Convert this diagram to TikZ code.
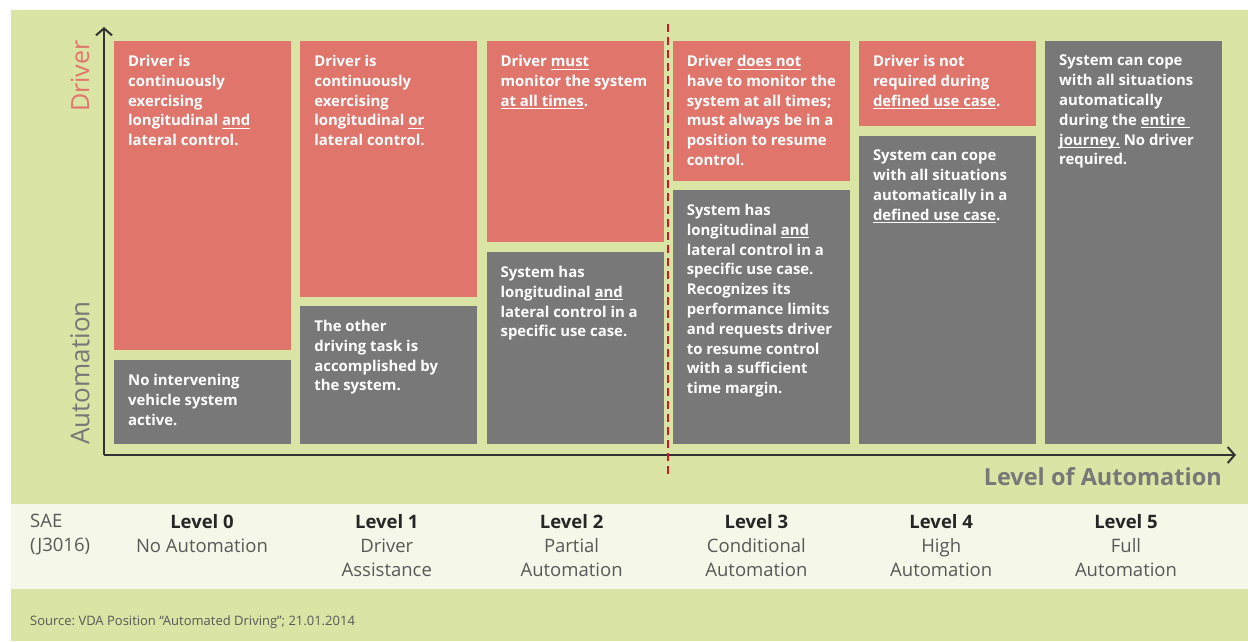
\documentclass[tikz,border=0pt]{standalone}
\usepackage{fontspec}
\setmainfont{Open Sans}
\usepackage{xcolor}
\definecolor{bggreen}{RGB}{218,228,164}
\definecolor{band}{RGB}{245,247,233}
\definecolor{drvred}{RGB}{224,117,108}
\definecolor{sysgray}{RGB}{120,120,120}
\definecolor{txtgray}{RGB}{88,88,88}
\definecolor{dashred}{RGB}{206,24,42}
\usepackage{tikz}
\usetikzlibrary{positioning, arrows.meta}
\frenchspacing
% underline a little below the baseline
\newsavebox{\undlbox}
\newcommand{\undl}[1]{\sbox{\undlbox}{#1}\rlap{\rule[-3pt]{\wd\undlbox}{0.9pt}}\usebox{\undlbox}}
\tikzstyle{box} = [
    rectangle, anchor=north west,
    minimum width=177pt,
    inner sep=0pt,
]
\tikzstyle{driver} = [
    box,
    fill=drvred,
]
\tikzstyle{system} = [
    box,
    fill=sysgray,
]
\tikzstyle{boxtext} = [
    text=white, align=left, inner sep=0pt,
    font=\bfseries\fontsize{14.9}{19.8}\selectfont,
]
\tikzstyle{level} = [
    anchor=north, align=center, inner sep=0pt, text=txtgray,
    font=\fontsize{18.5}{24}\selectfont,
]
\tikzstyle{axis} = [-{Straight Barb[length=7pt,width=16pt]}, line width=2pt, draw=black!80]

\begin{document}
\begin{tikzpicture}[x=1pt, y=-1pt]
    \useasboundingbox (0,0) rectangle (1248,641);
    % background
    \fill [bggreen] (11,10) rectangle (1248,641);
    \fill [band] (11,504) rectangle (1248,589);

    % boxes
    \foreach \i/\h in {0/309, 1/256, 2/201, 3/140, 4/85} {
        \node (drv\i) at (114+186.2*\i, 41) [driver, minimum height=\h pt] {};
    }
    \foreach \i/\t/\h in {0/360/84, 1/306/138, 2/252/192, 3/190/254, 4/136/308, 5/41/403} {
        \node (sys\i) at (114+186.2*\i, \t) [system, minimum height=\h pt] {};
    }

    % texts in the boxes
    \node [boxtext, below right=14pt and 14pt of drv0.north west]
        {Driver is\\continuously\\exercising\\longitudinal \undl{and}\\lateral control.};
    \node [boxtext, below right=14pt and 14pt of drv1.north west]
        {Driver is\\continuously\\exercising\\longitudinal \undl{or}\\lateral control.};
    \node [boxtext, below right=14pt and 14pt of drv2.north west]
        {Driver \undl{must}\\monitor the system\\\undl{at all times}.};
    \node [boxtext, below right=14pt and 14pt of drv3.north west]
        {Driver \undl{does not}\\have to monitor the\\system at all times;\\must always be in a\\position to resume\\control.};
    \node [boxtext, below right=14pt and 14pt of drv4.north west]
        {Driver is not\\required during\\\undl{defined use case}.};
    \node [boxtext, below right=14pt and 14pt of sys0.north west]
        {No intervening\\vehicle system\\active.};
    \node [boxtext, below right=14pt and 14pt of sys1.north west]
        {The other\\driving task is\\accomplished by\\the system.};
    \node [boxtext, below right=14pt and 14pt of sys2.north west]
        {System has\\longitudinal \undl{and}\\lateral control in a\\specific use case.};
    \node [boxtext, below right=14pt and 14pt of sys3.north west]
        {System has\\longitudinal \undl{and}\\lateral control in a\\specific use case.\\Recognizes its\\performance limits\\and requests driver\\to resume control\\with a sufficient\\time margin.};
    \node [boxtext, below right=14pt and 14pt of sys4.north west]
        {System can cope\\with all situations\\automatically in a\\\undl{defined use case}.};
    \node [boxtext, below right=14pt and 14pt of sys5.north west]
        {System can cope\\with all situations\\automatically\\during the \undl{entire\ }\\\undl{journey.} No driver\\required.};

    % axes
    \coordinate (origin) at (104,455);
    \coordinate (ytip) at (104,27);
    \coordinate (xtip) at (1236,455);
    \draw [axis] (origin) -- (ytip);
    \draw [axis] (origin) -- (xtip);
    \coordinate (dtop) at (668,24);
    \coordinate (dbot) at (668,474);
    \draw [dashred, line width=1.6pt, dash pattern=on 8pt off 5pt] (dtop) -- (dbot);

    \node (ydriver) at (80,76) [rotate=90, text=drvred, font=\fontsize{25}{25}\selectfont] {Driver};
    \node (yauto) at (80,373) [rotate=90, text=sysgray, font=\fontsize{26}{26}\selectfont] {Automation};
    \node (xlabel) at (1222,477) [anchor=east, inner sep=0pt, text=sysgray,
        font=\bfseries\fontsize{23.5}{23.5}\selectfont] {Level of Automation};

    % levels
    \node (sae) at (30,514) [level, anchor=north west, align=left] {SAE\\(J3016)};
    \foreach \i/\name in {0/No Automation, 1/Driver\\Assistance, 2/Partial\\Automation,
                          3/Conditional\\Automation, 4/High\\Automation, 5/Full\\Automation} {
        \node (lvl\i) at (202+184.8*\i, 514) [level] {{\color{black!85}\bfseries Level \i}\\\name};
    }
    \node (source) at (30,622) [anchor=west, inner sep=0pt, text=txtgray,
        font=\fontsize{13}{14}\selectfont] {Source: VDA Position “Automated Driving”; 21.01.2014};
\end{tikzpicture}
\end{document}
